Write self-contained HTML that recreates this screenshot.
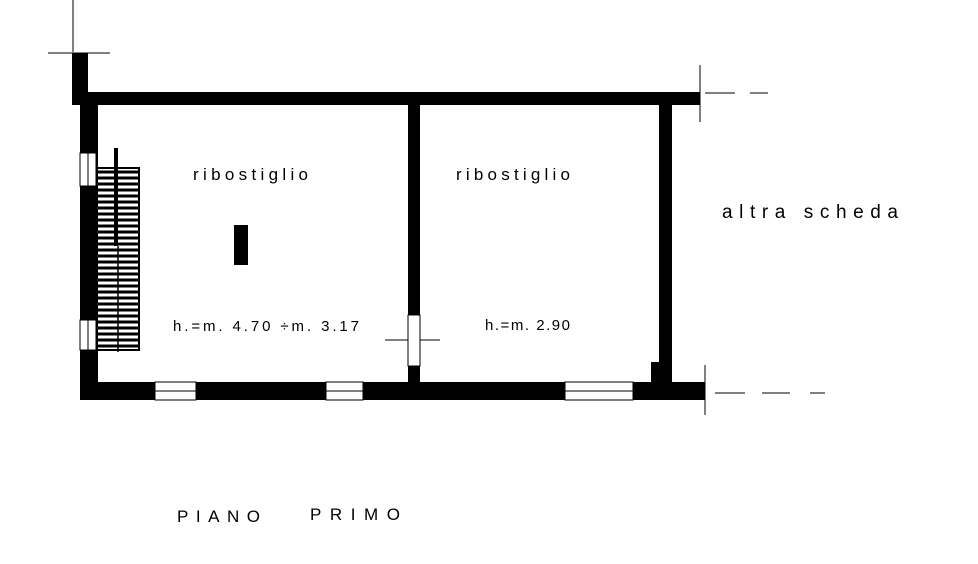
<!DOCTYPE html>
<html><head><meta charset="utf-8"><style>
body{margin:0;background:#fff;}
svg{display:block}
text{font-family:"Liberation Sans",sans-serif;fill:#000}
</style></head><body>
<svg width="978" height="564" viewBox="0 0 978 564" xmlns="http://www.w3.org/2000/svg">
<g stroke="#000" stroke-width="1" fill="none">
<line x1="73" y1="0" x2="73" y2="52"/>
<line x1="48" y1="53" x2="110" y2="53"/>
<line x1="700" y1="65" x2="700" y2="122"/>
<line x1="705" y1="93" x2="735" y2="93"/>
<line x1="750" y1="93" x2="768" y2="93"/>
<line x1="705" y1="365" x2="705" y2="415"/>
<line x1="715" y1="393" x2="745" y2="393"/>
<line x1="762" y1="393" x2="790" y2="393"/>
<line x1="810" y1="393" x2="825" y2="393"/>
<line x1="385" y1="340" x2="440" y2="340"/>
</g>
<g fill="#000">
<rect x="72" y="53" width="16" height="52"/>
<rect x="80" y="92" width="620" height="13"/>
<rect x="80" y="92" width="18" height="308"/>
<rect x="80" y="382" width="625" height="18"/>
<rect x="408" y="105" width="12" height="277"/>
<rect x="659" y="103" width="13" height="279"/>
<rect x="234" y="225" width="14" height="40"/>
<rect x="651" y="362" width="8" height="20"/>
</g>
<g fill="#fff" stroke="#000" stroke-width="1">
<rect x="80" y="153" width="16" height="33"/>
<rect x="80" y="320" width="16" height="30"/>
<rect x="408" y="315" width="12" height="51"/>
<rect x="155" y="382" width="41" height="18"/>
<rect x="326" y="382" width="37" height="18"/>
<rect x="565" y="382" width="68" height="18"/>
</g>
<g stroke="#000" stroke-width="1">
<line x1="88" y1="153" x2="88" y2="186"/>
<line x1="88" y1="320" x2="88" y2="350"/>
<line x1="155" y1="391" x2="196" y2="391"/>
<line x1="326" y1="391" x2="363" y2="391"/>
<line x1="565" y1="391" x2="633" y2="391"/>
<line x1="420" y1="325" x2="420" y2="355"/>
</g>
<rect x="97" y="168" width="42" height="182" fill="#fff" stroke="#000" stroke-width="2"/>
<g stroke="#000" stroke-width="3">
<line x1="98" y1="172" x2="139" y2="172"/><line x1="98" y1="178" x2="139" y2="178"/>
<line x1="98" y1="184" x2="139" y2="184"/><line x1="98" y1="190" x2="139" y2="190"/>
<line x1="98" y1="196" x2="139" y2="196"/><line x1="98" y1="202" x2="139" y2="202"/>
<line x1="98" y1="208" x2="139" y2="208"/><line x1="98" y1="214" x2="139" y2="214"/>
<line x1="98" y1="220" x2="139" y2="220"/><line x1="98" y1="226" x2="139" y2="226"/>
<line x1="98" y1="232" x2="139" y2="232"/><line x1="98" y1="238" x2="139" y2="238"/>
<line x1="98" y1="244" x2="139" y2="244"/><line x1="98" y1="250" x2="139" y2="250"/>
<line x1="98" y1="256" x2="139" y2="256"/><line x1="98" y1="262" x2="139" y2="262"/>
<line x1="98" y1="268" x2="139" y2="268"/><line x1="98" y1="274" x2="139" y2="274"/>
<line x1="98" y1="280" x2="139" y2="280"/><line x1="98" y1="286" x2="139" y2="286"/>
<line x1="98" y1="292" x2="139" y2="292"/><line x1="98" y1="298" x2="139" y2="298"/>
<line x1="98" y1="304" x2="139" y2="304"/><line x1="98" y1="310" x2="139" y2="310"/>
<line x1="98" y1="316" x2="139" y2="316"/><line x1="98" y1="322" x2="139" y2="322"/>
<line x1="98" y1="328" x2="139" y2="328"/><line x1="98" y1="334" x2="139" y2="334"/>
<line x1="98" y1="340" x2="139" y2="340"/><line x1="98" y1="346" x2="139" y2="346"/>
</g>
<rect x="114" y="148" width="4" height="98" fill="#000"/>
<line x1="118" y1="246" x2="118" y2="352" stroke="#000" stroke-width="1.5"/>
<g font-size="17">
<text x="193" y="180" textLength="115" lengthAdjust="spacing">ribostiglio</text>
<text x="456" y="180" textLength="114" lengthAdjust="spacing">ribostiglio</text>
<text x="722" y="218" font-size="19" textLength="176" lengthAdjust="spacing">altra scheda</text>
<text x="173" y="331" font-size="15" textLength="186" lengthAdjust="spacing">h.=m. 4.70 ÷m. 3.17</text>
<text x="485" y="330" font-size="15" textLength="85" lengthAdjust="spacing">h.=m. 2.90</text>
<text x="177" y="522" font-size="17" textLength="83" lengthAdjust="spacing">PIANO</text>
<text x="310" y="520" font-size="17" textLength="90" lengthAdjust="spacing">PRIMO</text>
</g>
</svg>
</body></html>
